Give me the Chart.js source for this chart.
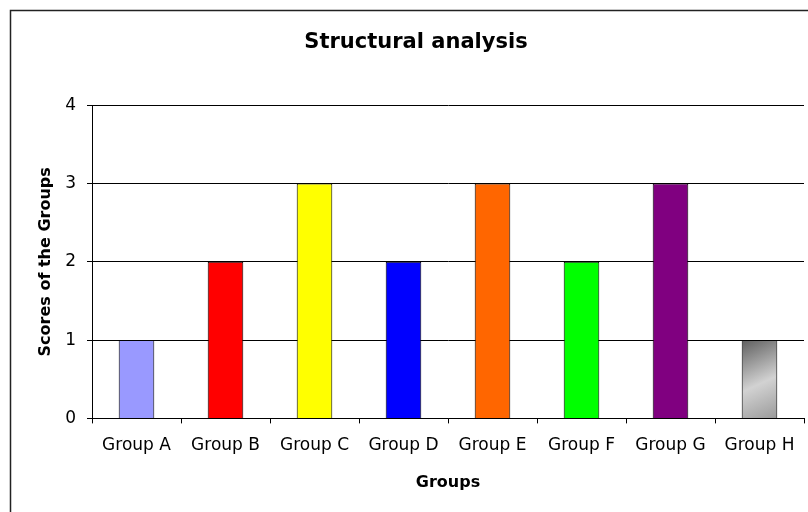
<!DOCTYPE html>
<html>
<head>
<meta charset="utf-8">
<script src="https://cdn.jsdelivr.net/npm/chart.js@4/dist/chart.umd.min.js"></script>
<style>
  html, body { margin: 0; padding: 0; background: #fff; overflow: hidden; }
  #wrap { width: 832px; height: 530px; }
</style>
</head>
<body>
<div id="wrap"><canvas id="c" width="832" height="530"></canvas></div>
<script>
const chartTitle = "Structural analysis";
const xAxisTitle = "Groups";
const yAxisTitle = "Scores of the Groups";
const categories = ["Group A", "Group B", "Group C", "Group D", "Group E", "Group F", "Group G", "Group H"];
const scores = [1, 2, 3, 2, 3, 2, 3, 1];
const yTicks = [0, 1, 2, 3, 4];
const barColors = ["#9999FF", "#FF0000", "#FFFF00", "#0000FF", "#FF6600", "#00FF00", "#800080", "gradient"];

const framePlugin = {
  id: 'frame',
  beforeDraw(chart) {
    const c = chart.ctx;
    c.save();
    c.fillStyle = '#fff';
    c.fillRect(0, 0, chart.width, chart.height);
    c.strokeStyle = '#222';
    c.lineWidth = 1.5;
    c.strokeRect(10.5, 10.5, chart.width - 21, chart.height - 21);
    c.restore();
  }
};

function barFill(ctx) {
  const col = barColors[ctx.dataIndex];
  if (col !== 'gradient') return col;
  const chart = ctx.chart;
  const xs = chart.scales.x, ys = chart.scales.y;
  if (!xs || !ys || !chart.chartArea) return '#aaaaaa';
  const xc = xs.getPixelForValue(ctx.dataIndex);
  const top = ys.getPixelForValue(scores[ctx.dataIndex]);
  const bot = ys.getPixelForValue(0);
  const g = chart.ctx.createLinearGradient(xc - 18, top, xc + 18, bot);
  g.addColorStop(0, '#5e5e5e');
  g.addColorStop(0.55, '#d2d2d2');
  g.addColorStop(1, '#9a9a9a');
  return g;
}

new Chart(document.getElementById('c'), {
  type: 'bar',
  data: {
    labels: categories,
    datasets: [{
      data: scores,
      backgroundColor: barFill,
      borderColor: '#000',
      borderWidth: 1,
      categoryPercentage: 1,
      barPercentage: 0.4
    }]
  },
  options: {
    responsive: false,
    animation: false,
    devicePixelRatio: 1,
    layout: { padding: { left: 28, top: 10, right: 28, bottom: 34 } },
    plugins: {
      legend: { display: false },
      tooltip: { enabled: false },
      title: {
        display: true,
        text: chartTitle,
        color: '#000',
        font: { family: 'DejaVu Sans', size: 21, weight: 'bold' },
        padding: { top: 20, bottom: 50 }
      }
    },
    scales: {
      x: {
        offset: true,
        grid: { display: true, drawOnChartArea: false, offset: true, color: '#000', tickLength: 5, tickColor: '#000' },
        border: { display: true, color: '#000', width: 1 },
        ticks: { color: '#000', font: { family: 'DejaVu Sans', size: 17 }, padding: 12, maxRotation: 0 },
        title: { display: true, text: xAxisTitle, color: '#000', font: { family: 'DejaVu Sans', size: 16, weight: 'bold' }, padding: { top: 5, bottom: 4 } }
      },
      y: {
        min: 0,
        max: 4,
        afterBuildTicks(scale) { scale.ticks = yTicks.map(v => ({ value: v })); },
        afterFit(scale) { scale.width = 64; },
        grid: { color: '#000', lineWidth: 1, tickLength: 5, tickColor: '#000' },
        border: { display: true, color: '#000', width: 1 },
        ticks: { color: '#000', font: { family: 'DejaVu Sans', size: 17 }, padding: 11 },
        title: { display: true, text: yAxisTitle, color: '#000', font: { family: 'DejaVu Sans', size: 16, weight: 'bold' }, padding: { top: 8, bottom: 0 } }
      }
    }
  },
  plugins: [framePlugin]
});
</script>
</body>
</html>
